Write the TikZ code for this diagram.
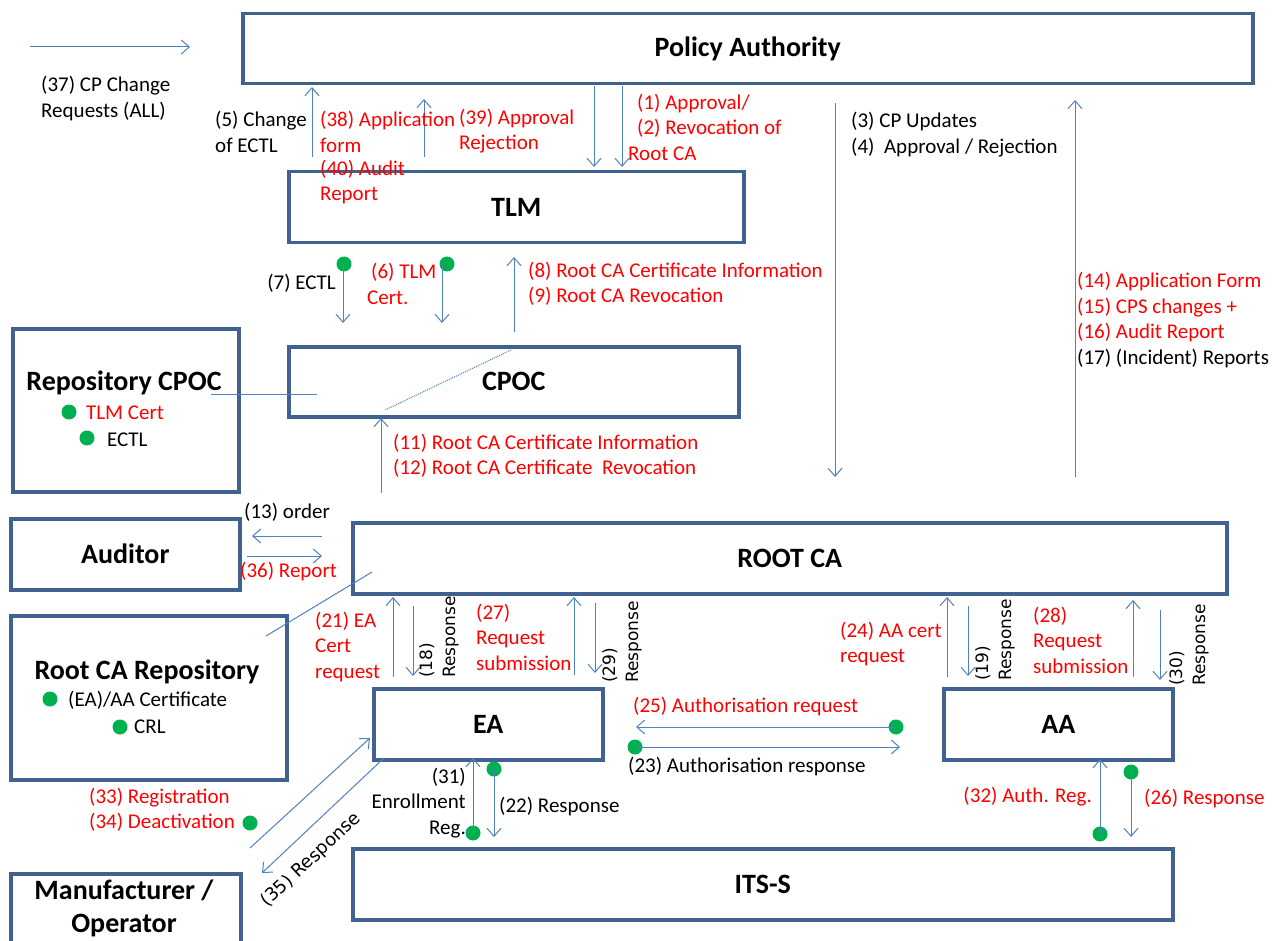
\documentclass[tikz,border=0pt]{standalone}
\usepackage{fontspec}
\setmainfont{Carlito}
\newfontfamily\rotfont{DejaVu Sans}
\usetikzlibrary{arrows.meta}
\definecolor{boxblue}{RGB}{65,97,142}
\definecolor{arrblue}{RGB}{79,129,189}
\definecolor{dotgreen}{RGB}{0,176,80}
\definecolor{lblred}{RGB}{255,0,0}
\tikzset{
 box/.style={draw=boxblue, line width=3.5pt, fill=white, anchor=north west, inner sep=0, font=\fontsize{28}{33}\selectfont\bfseries, align=center},
 arr/.style={draw=arrblue, line width=1pt, -{Straight Barb[length=8pt,width=14pt,line width=1pt]}},
 plainline/.style={draw=arrblue, line width=1pt},
 lbl/.style={inner sep=0, align=left, font=\fontsize{21}{25.5}\selectfont},
 rlbl/.style={lbl, text=lblred},
 titletxt/.style={inner sep=0, align=center, font=\fontsize{28}{33}\selectfont\bfseries},
 rot/.style={inner sep=0, align=left, font=\rotfont\fontsize{17}{23}\selectfont, rotate=90, anchor=north west},
 gdot/.style={circle, fill=dotgreen, inner sep=0, minimum size=15pt},
}
\begin{document}
\begin{tikzpicture}[x=1pt,y=-1pt]
\useasboundingbox (0,0) rectangle (1274,941);
% boxes
\node[box, minimum width=1010pt, minimum height=70pt] (pa) at (241,12) {Policy Authority};
\node[box, minimum width=455pt, minimum height=71pt] (tlm) at (287,170) {TLM};
\node[box, minimum width=226pt, minimum height=163pt] (rcpoc) at (11,327) {};
\node[box, minimum width=450pt, minimum height=70pt] (cpoc) at (287,345) {CPOC};
\node[box, minimum width=229pt, minimum height=71pt] (aud) at (9,517) {Auditor};
\node[box, minimum width=874pt, minimum height=71pt] (root) at (351,521) {ROOT CA};
\node[box, minimum width=276pt, minimum height=164pt] (rrepo) at (9,614) {};
\node[box, minimum width=229pt, minimum height=71pt] (ea) at (372,687) {EA};
\node[box, minimum width=229pt, minimum height=71pt] (aa) at (942,687) {AA};
\node[box, minimum width=820pt, minimum height=71pt] (its) at (351,847) {ITS-S};
\node[box, minimum width=230pt, minimum height=100pt] (man) at (9,872) {};
% box titles placed off-centre
\node[titletxt] (rcpoct) at (124,383) {Repository CPOC};
\node[titletxt] (rrepot) at (147,672) {Root CA Repository};
\node[titletxt] (mant) at (124,908) {Manufacturer /\\Operator};
% contents of repositories
\node[gdot] (d1) at (69,412) {};
\node[rlbl, anchor=west] (t1) at (86,413) {TLM Cert};
\node[gdot] (d2) at (87,438) {};
\node[lbl, anchor=west] (t2) at (107,440) {ECTL};
\node[gdot] (d3) at (50,699) {};
\node[lbl, anchor=west] (t3) at (68,700) {(EA)/AA Certificate};
\node[gdot] (d4) at (120,727) {};
\node[lbl, anchor=west] (t4) at (134,727) {CRL};
% top area
\draw[arr] (30,47) -- (190,47);
\node[lbl, anchor=west] (l37) at (41,98.5) {(37) CP Change\\Requests (ALL)};
\draw[arr] (312,157) -- (312,87);
\draw[arr] (424,157) -- (424,99);
\draw[arr] (594,86) -- (594,167);
\draw[arr] (622,86) -- (622,167);
\node[lbl, anchor=west] (l5) at (215,132) {(5) Change\\of ECTL};
\node[rlbl, anchor=west] (l38) at (320,132) {(38) Application\\form};
\node[rlbl, anchor=west] (l40) at (320,182) {(40) Audit\\Report};
\node[rlbl, anchor=west] (l39) at (459,131) {(39) Approval\\Rejection};
\node[rlbl, anchor=west] (l1) at (637,127) {(1) Approval/\\(2) Revocation of\\\hspace*{-9pt}Root CA};
\draw[arr] (835,103) -- (835,477);
\node[lbl, anchor=west] (l3) at (851,134.5) {(3) CP Updates\\(4)\ \ Approval / Rejection};
\draw[arr] (1075,477) -- (1075,100);
\node[lbl, anchor=west] (l14) at (1077,320) {\textcolor{lblred}{(14) Application Form}\\\textcolor{lblred}{(15) CPS changes +}\\\textcolor{lblred}{(16) Audit Report}\\(17) (Incident) Reports};
% TLM - CPOC
\node[gdot] (d7) at (344,264) {};
\draw[arr] (343,264) -- (343,323);
\node[lbl, anchor=east] (l7) at (336,283) {(7) ECTL};
\node[gdot] (d6) at (447,264) {};
\draw[arr] (442,264) -- (442,323);
\node[rlbl, anchor=west] (l6) at (367,284) {\hspace*{4pt}(6) TLM\\Cert.};
\draw[arr] (514,332) -- (514,257);
\node[rlbl, anchor=west] (l8) at (528,284) {(8) Root CA Certificate Information\\(9) Root CA Revocation};
\draw[arrblue, line width=1pt, densely dotted] (511,350) -- (385,410);
\draw[plainline] (211,394) -- (317,394);
\draw[arr] (381,493) -- (381,418);
\node[rlbl, anchor=west] (l11) at (393,456) {(11) Root CA Certificate Information\\(12) Root CA Certificate\ \ Revocation};
% Auditor
\draw[arr] (322,536) -- (252,536);
\draw[arr] (247,556) -- (322,556);
\node[lbl, anchor=west] (l13) at (244,512) {(13) order};
\node[rlbl, anchor=west] (l36) at (240,572) {(36) Report};
\draw[plainline] (372,572) -- (266,636);
% Root CA - EA
\draw[arr] (393,677) -- (393,597);
\draw[arr] (413,606) -- (413,676);
\node[rot] (l18) at (419,678) {(18)\\Response};
\node[rlbl, anchor=west] (l21) at (315,647) {(21) EA\\Cert\\request};
\draw[arr] (574,675) -- (574,597);
\draw[arr] (595,603) -- (595,673);
\node[rot] (l29) at (602,683) {(29)\\Response};
\node[rlbl, anchor=west] (l27) at (476,637) {(27)\\Request\\submission};
% Root CA - AA
\draw[arr] (947,677) -- (947,597);
\draw[arr] (968,606) -- (968,676);
\node[rot] (l19) at (975,681) {(19)\\Response};
\node[rlbl, anchor=west] (l24) at (840,644) {(24) AA cert\\request};
\draw[arr] (1133,677) -- (1133,600);
\draw[arr] (1160,610) -- (1160,680);
\node[rot] (l30) at (1169,686) {(30)\\Response};
\node[rlbl, anchor=west] (l28) at (1033,640) {(28)\\Request\\submission};
% EA - AA
\node[gdot] (d25) at (896,727) {};
\draw[arr] (896,727) -- (636,727);
\node[rlbl, anchor=west] (l25) at (633,707) {(25) Authorisation request};
\node[gdot] (d23) at (635,747) {};
\draw[arr] (635,747) -- (900,747);
\node[lbl, anchor=west] (l23) at (628,767) {(23) Authorisation response};
% EA - ITS-S
\node[gdot] (d31) at (473,833) {};
\draw[arr] (473,833) -- (473,758);
\node[lbl, anchor=east, align=right] (l31) at (466,803) {(31)\\Enrollment\\Reg.};
\node[gdot] (d22) at (494,769) {};
\draw[arr] (494,769) -- (494,837);
\node[lbl, anchor=west] (l22) at (499,807) {(22) Response};
% EA - Manufacturer
\draw[arr] (250,848) -- (370,738);
\draw[arr] (384,758) -- (262,873);
\node[inner sep=0, font=\rotfont\fontsize{18}{20}\selectfont, rotate=43] (l35) at (311,860) {(35) Response};
\node[rlbl, anchor=west] (l33) at (89,810) {(33) Registration\\(34) Deactivation};
\node[gdot] (d33) at (250,823) {};
% AA - ITS-S
\node[gdot] (d32) at (1100,834) {};
\draw[arr] (1100,834) -- (1100,759);
\node[rlbl, anchor=east] (l32) at (1092,797) {(32) Auth. Reg.};
\node[gdot] (d26) at (1131,772) {};
\draw[arr] (1131,772) -- (1131,837);
\node[rlbl, anchor=west] (l26) at (1144,799) {(26) Response};
\end{tikzpicture}
\end{document}
